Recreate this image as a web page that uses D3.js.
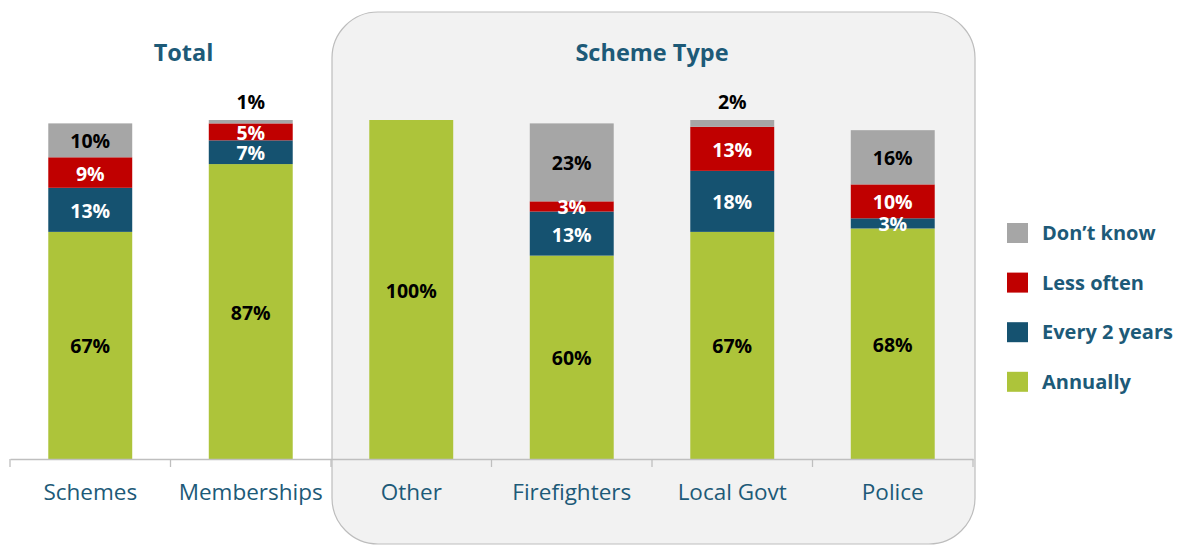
<!DOCTYPE html>
<html>
<head>
<meta charset="utf-8">
<script src="https://cdn.jsdelivr.net/npm/d3@7"></script>
<style>
  html, body { margin: 0; padding: 0; background: #ffffff; }
  svg { display: block; font-family: "Open Sans", Lato, sans-serif; }
</style>
</head>
<body>
<svg id="chart" width="1186" height="545"></svg>
<script>
// Review frequency by scheme, percent of respondents
const categories = ["Schemes", "Memberships", "Other", "Firefighters", "Local Govt", "Police"];
const annually   = [67, 87, 100, 60, 67, 68];
const every2     = [13, 7, 0, 13, 18, 3];
const lessOften  = [9, 5, 0, 3, 13, 10];
const dontKnow   = [10, 1, 0, 23, 2, 16];

const seriesNames  = ["Annually", "Every 2 years", "Less often", "Don\u2019t know"];
const seriesColors = ["#adc43a", "#155270", "#c00000", "#a6a6a6"];
const labelColors  = ["#000000", "#ffffff", "#ffffff", "#000000"];
const groupTitles  = ["Total", "Scheme Type"];
const groupMembers = [["Schemes", "Memberships"], ["Other", "Firefighters", "Local Govt", "Police"]];

const seriesValues = [annually, every2, lessOften, dontKnow];
const rows = categories.map((c, i) => {
  const r = { category: c };
  seriesNames.forEach((s, k) => { r[s] = seriesValues[k][i]; });
  return r;
});
const stacked = d3.stack().keys(seriesNames)(rows);

const svg = d3.select("#chart");
const teal = "#1d5a78";

const x = d3.scaleBand().domain(categories).range([10, 973]).paddingInner(0.477).paddingOuter(0.2385);
const y = d3.scaleLinear().domain([0, 100]).range([459, 120]);

// Shaded panel behind the scheme-type bars
const panelX0 = x("Other") - x.step() * x.paddingInner() / 2 + 1;
svg.append("rect")
  .attr("x", panelX0)
  .attr("y", 12)
  .attr("width", 975 - panelX0)
  .attr("height", 532)
  .attr("rx", 46).attr("ry", 46)
  .attr("fill", "#f2f2f2")
  .attr("stroke", "#bdbdbd")
  .attr("stroke-width", 1.2);

// Group titles
const titleShift = [13, 0];
groupTitles.forEach((t, g) => {
  const mem = groupMembers[g];
  const left = x(mem[0]);
  const right = x(mem[mem.length - 1]) + x.bandwidth();
  svg.append("text")
    .attr("x", (left + right) / 2 + titleShift[g])
    .attr("y", 61)
    .attr("text-anchor", "middle")
    .attr("font-weight", 700)
    .attr("font-size", 23.5)
    .attr("fill", teal)
    .text(t);
});

// Stacked bars
const layers = svg.append("g").selectAll("g")
  .data(stacked)
  .join("g")
  .attr("fill", (d, i) => seriesColors[i]);

layers.selectAll("rect")
  .data(d => d)
  .join("rect")
  .attr("x", d => x(d.data.category))
  .attr("width", x.bandwidth())
  .attr("y", d => y(d[1]))
  .attr("height", d => y(d[0]) - y(d[1]));

// Value labels
const labels = svg.append("g")
  .attr("font-weight", 700)
  .attr("font-size", 19.5)
  .attr("text-anchor", "middle");

stacked.forEach((layer, k) => {
  layer.forEach(d => {
    const v = d[1] - d[0];
    if (v <= 0) return;
    const cx = x(d.data.category) + x.bandwidth() / 2;
    const small = v <= 2;
    const cy = small ? y(d[1]) - 19 : (y(d[0]) + y(d[1])) / 2;
    labels.append("text")
      .attr("x", cx)
      .attr("y", cy + 1)
      .attr("dy", "0.36em")
      .attr("fill", small ? "#000000" : labelColors[k])
      .text(v + "%");
  });
});

// Category axis
const axis = d3.axisBottom(x).tickSize(0).tickPadding(25);
const ax = svg.append("g").attr("transform", "translate(0,459)").call(axis);
ax.select(".domain").attr("stroke", "#bfbfbf").attr("stroke-width", 1.3);
ax.selectAll(".tick text")
  .attr("font-size", 22.5)
  .attr("font-family", "'Open Sans', Lato, sans-serif")
  .attr("fill", teal);

// Boundary ticks between categories
const bounds = categories.map(c => x(c) - x.step() * x.paddingInner() / 2);
bounds.push(973);
bounds[0] = 10;
ax.selectAll(".bound")
  .data(bounds)
  .join("line")
  .attr("class", "bound")
  .attr("x1", d => d).attr("x2", d => d)
  .attr("y1", 0).attr("y2", 8)
  .attr("stroke", "#bfbfbf")
  .attr("stroke-width", 1.3);

// Legend
const legend = svg.append("g");
const legendOrder = [3, 2, 1, 0];
legendOrder.forEach((k, i) => {
  const cy = 233 + i * 49.6;
  legend.append("rect")
    .attr("x", 1007).attr("y", cy - 10)
    .attr("width", 21).attr("height", 20)
    .attr("fill", seriesColors[k]);
  legend.append("text")
    .attr("x", 1042).attr("y", cy)
    .attr("dy", "0.36em")
    .attr("font-weight", 700)
    .attr("font-size", 20)
    .attr("fill", teal)
    .text(seriesNames[k]);
});
</script>
</body>
</html>
